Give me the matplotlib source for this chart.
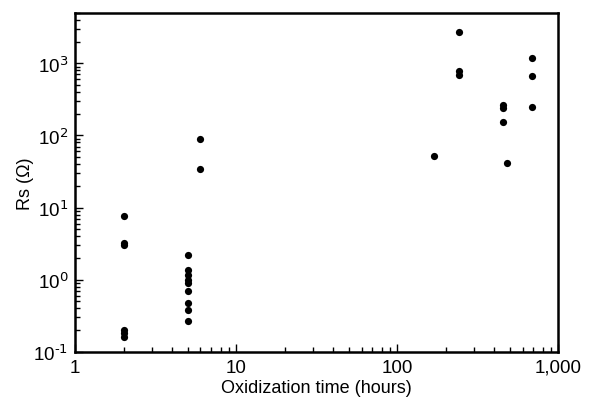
import matplotlib
matplotlib.use("Agg")
import matplotlib.pyplot as plt
from matplotlib.ticker import FuncFormatter, LogLocator
import math

plt.rcParams['font.family'] = ['Liberation Sans', 'DejaVu Sans']
plt.rcParams['axes.unicode_minus'] = False

# oxidization time (hours) and sheet resistance (ohm)
hours_2 = [2, 2, 2, 2, 2, 2]
rs_2 = [7.6, 3.2, 3.0, 0.20, 0.18, 0.16]
hours_5 = [5, 5, 5, 5, 5, 5, 5, 5, 5]
rs_5 = [2.2, 1.35, 1.17, 1.0, 0.9, 0.7, 0.48, 0.38, 0.27]
hours_6 = [6, 6]
rs_6 = [90, 34]
hours_long = [170, 243, 243, 243, 451, 451, 451, 480, 683, 683, 683]
rs_long = [52, 2720, 780, 690, 260, 237, 153, 41, 1185, 670, 245]

x = hours_2 + hours_5 + hours_6 + hours_long
y = rs_2 + rs_5 + rs_6 + rs_long


def pow_label(v, p):
    e = int(round(math.log10(v)))
    return r"$\mathdefault{10^{\text{%d}}}$" % e


fig = plt.figure(figsize=(5.92, 4.06), dpi=100)
ax = fig.add_axes([0.127, 0.131, 0.816, 0.835])

ax.plot(x, y, "o", color="black", markersize=5.2, markeredgewidth=0)

ax.set_xscale("log")
ax.set_yscale("log")
ax.set_xlim(1, 1000)
ax.set_ylim(0.1, 5000)

ax.xaxis.set_major_formatter(FuncFormatter(lambda v, p: "{:,}".format(int(round(v)))))
ax.yaxis.set_major_formatter(FuncFormatter(pow_label))
ax.yaxis.set_minor_locator(LogLocator(base=10, subs=range(2, 10)))

for s in ax.spines.values():
    s.set_linewidth(1.8)

ax.tick_params(which="both", direction="in", top=False, right=False, labelsize=13.5, width=1.0)
ax.tick_params(which="major", length=6, pad=5)
ax.tick_params(which="minor", length=3.5)

ax.set_xlabel("Oxidization time (hours)", fontsize=13, labelpad=2)
ax.set_ylabel("Rs (\u03a9)", fontsize=13)
ax.yaxis.set_label_coords(-0.085, 0.5)

fig.savefig("out.png", dpi=100)
